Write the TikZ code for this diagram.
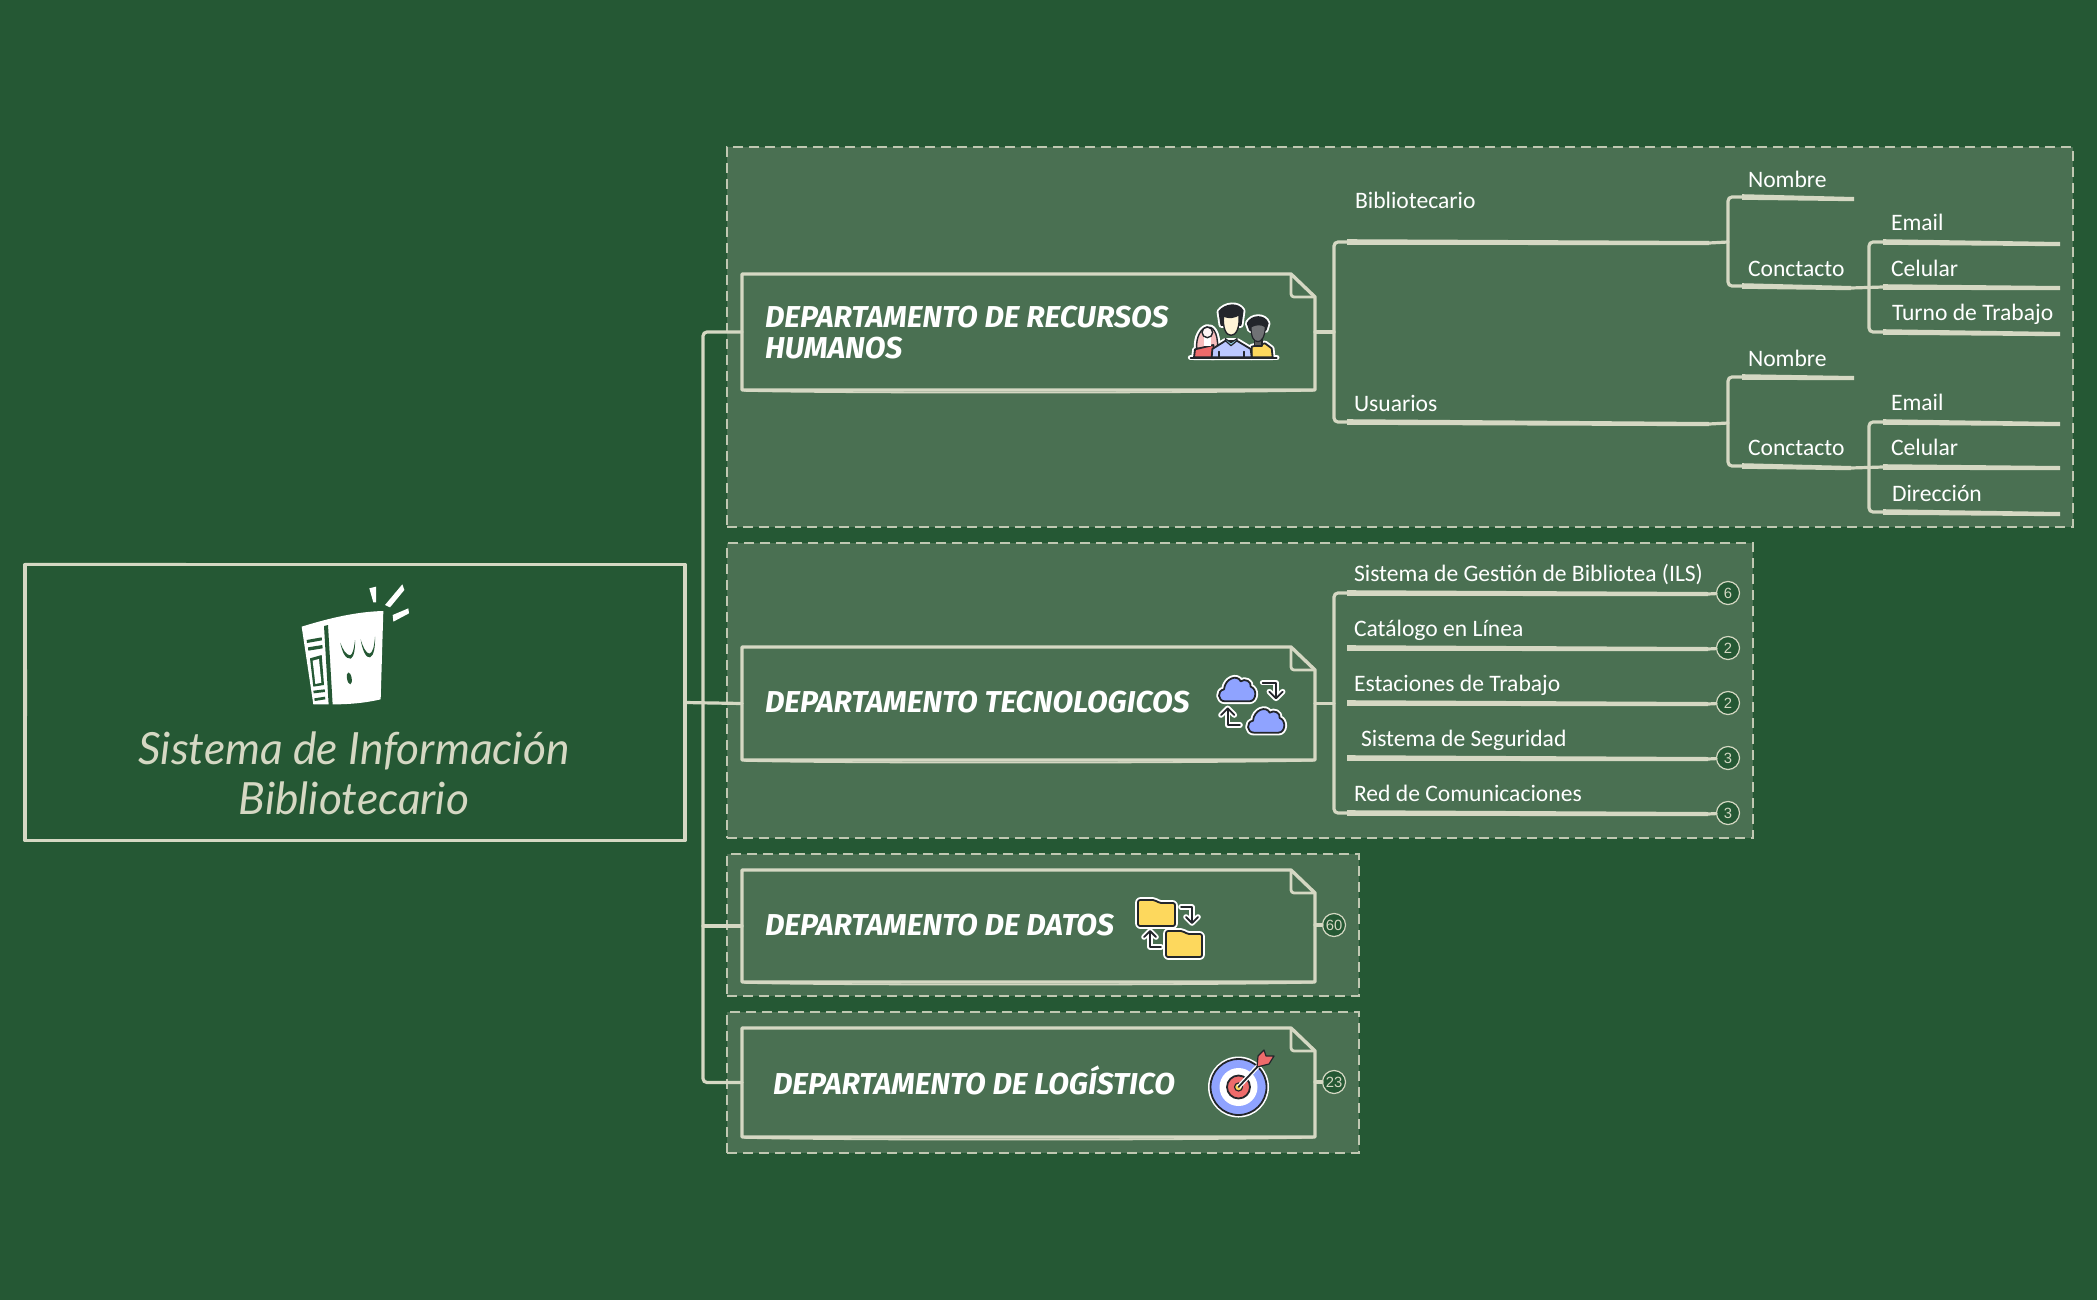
\documentclass[tikz,border=0pt]{standalone}
\usepackage{fontspec}
\usepackage{graphicx}
\setmainfont{Carlito}
\newfontfamily\titlef{Lato}
\newfontfamily\deptf{Fira Sans}
\newfontfamily\badgef{Liberation Sans}
\usetikzlibrary{calc}
\definecolor{bgc}{HTML}{255834}
\definecolor{grpc}{HTML}{4A7052}
\definecolor{ink}{HTML}{D5D8C3}
\definecolor{icod}{HTML}{23262B}
\definecolor{icob}{HTML}{8FA3FF}
\definecolor{icoy}{HTML}{FDD85D}
\definecolor{icor}{HTML}{EE6B6B}
\tikzset{
  grp/.style={fill=grpc,draw=ink!85!grpc,line width=.55pt,dash pattern=on 5pt off 3pt},
  wire/.style={draw=ink,line width=1.6pt,rounded corners=2pt,line cap=round},
  boxline/.style={draw=ink,line width=1.7pt,line join=round},
  shell/.style={inner sep=0pt,outer sep=0pt},
  lab/.style={inner sep=0pt,outer sep=0pt,anchor=west,text=white,font=\fontsize{11.8}{13}\selectfont},
  dlab/.style={inner sep=0pt,outer sep=0pt,anchor=west,text=white,align=left,font=\deptf\itshape\bfseries\fontsize{15.1}{15.5}\selectfont},
  badge/.style={circle,draw=ink,fill=bgc,line width=.6pt,minimum size=11.5pt,inner sep=0pt,text=ink,font=\badgef\fontsize{7.4}{8}\selectfont},
  halo/.style={draw=white,line width=2.8pt,line join=round,line cap=round},
  ico/.style={draw=icod,line width=.9pt,line join=round,line cap=round},
}
\newcommand{\taper}[2]{\fill[ink] ([yshift=1.4pt]#1) -- ([yshift=1pt]#2) -- ([yshift=-1.1pt]#2) -- ([yshift=-1.4pt]#1) -- cycle;}
\newcommand{\deptoutline}[1]{%
  \draw[boxline] (#1.north west) -- ([xshift=-12pt]#1.north east) -- ([yshift=-11.5pt]#1.north east) -- (#1.south east) -- (#1.south west) -- cycle;
  \draw[boxline,line width=1.4pt,rounded corners=1.5pt] ([xshift=-12pt]#1.north east) -- ([xshift=-12pt,yshift=-11.5pt]#1.north east) -- ([yshift=-11.5pt]#1.north east);
  \draw[draw=ink,line width=.9pt] ([xshift=1pt,yshift=-.4pt]#1.south west) .. controls ([xshift=-90pt,yshift=-1.7pt]#1.south) and ([xshift=90pt,yshift=-1.5pt]#1.south) .. ([xshift=-1pt,yshift=-.3pt]#1.south east);
}
\begin{document}
\begin{tikzpicture}[x=.5pt,y=-.5pt]
\useasboundingbox (0,0) rectangle (2097,1300);
\fill[bgc] (0,0) rectangle (2097,1300);
% groups
\node[grp,shell,minimum width=673pt,minimum height=190pt] (g1) at (1400,337) {};
\node[grp,shell,minimum width=513pt,minimum height=147.5pt] (g2) at (1240,690.5) {};
\node[grp,shell,minimum width=316pt,minimum height=71pt] (g3) at (1043,925) {};
\node[grp,shell,minimum width=316pt,minimum height=70.5pt] (g4) at (1043,1082.5) {};
% main
\node[shell,minimum width=330pt,minimum height=138pt] (m) at (355,702.5) {};
\draw[boxline,line width=1.6pt] (m.north west) -- (m.north east) -- (m.south east) -- (m.south west) -- cycle;
\draw[draw=ink,line width=.7pt] ([yshift=.5pt]m.north west) -- ([yshift=.1pt]m.north east);
\draw[draw=ink,line width=.7pt] ([xshift=.5pt]m.north west) -- ([xshift=.7pt,yshift=-70pt]m.north west) -- ([xshift=.1pt]m.south west);
\node[shell,text=ink,align=center,font=\titlef\itshape\fontsize{22.2}{25}\selectfont] (mt) at (354,773) {Sistema de Información\\Bibliotecario};
% departments
\node[shell,minimum width=286.5pt,minimum height=58pt] (d1) at (1028.5,332) {};
\node[shell,minimum width=286.5pt,minimum height=56.5pt] (d2) at (1028.5,703.5) {};
\node[shell,minimum width=286.5pt,minimum height=56pt] (d3) at (1028.5,926) {};
\node[shell,minimum width=286.5pt,minimum height=54.5pt] (d4) at (1028.5,1082.5) {};
\deptoutline{d1}\deptoutline{d2}\deptoutline{d3}\deptoutline{d4}
\node[dlab] (d1t) at (765,332.5) {DEPARTAMENTO DE RECURSOS\\HUMANOS};
\node[dlab] (d2t) at (765,702) {DEPARTAMENTO TECNOLOGICOS};
\node[dlab] (d3t) at (765,925) {DEPARTAMENTO DE DATOS};
\node[dlab] (d4t) at (773,1080) {DEPARTAMENTO DE LOGÍSTICO};
% main trunk
\coordinate (tr) at (703,703);
\draw[wire] (m.east) -- (d2.west);
\draw[wire] (d1.west) -- (tr |- d1.west) -- (tr |- d4.west) -- (d4.west);
\draw[wire] (d3.west) -- (tr |- d3.west);
% level 2 dept 1
\node[lab] (bib) at (1355,200) {Bibliotecario};
\node[lab] (usu) at (1354,403) {Usuarios};
\coordinate (bibL) at (1347,242);\coordinate (bibR) at (1709,243);\coordinate (bibE) at (1728,242);
\coordinate (usuL) at (1347,422);\coordinate (usuR) at (1709,424);\coordinate (usuE) at (1728,423);
\taper{bibL}{bibR}\taper{usuL}{usuR}
\draw[wire] (d1.east) -- (1334,332);
\draw[wire] (bibL) -- (1334,242) -- (1334,422) -- (usuL);
\draw[wire] (bibR) -- (bibE);\draw[wire] (usuR) -- (usuE);
% upper sub-tree
\node[lab] (n1) at (1748,179) {Nombre};
\node[lab] (c1) at (1748,269) {Conctacto};
\coordinate (n1L) at (1742,197);\coordinate (n1R) at (1854,199);
\coordinate (c1L) at (1742,286);\coordinate (c1R) at (1851,288);
\taper{n1L}{n1R}\taper{c1L}{c1R}
\draw[wire] (n1L) -- (1728,197) -- (1728,286) -- (c1L);
\node[lab] (e1) at (1891,222) {Email};
\node[lab] (p1) at (1891,268) {Celular};
\node[lab] (t1) at (1892,314) {Turno de Trabajo};
\coordinate (e1L) at (1883,242);\coordinate (e1R) at (2060,244);
\coordinate (p1L) at (1883,287);\coordinate (p1R) at (2060,288);
\coordinate (t1L) at (1883,332);\coordinate (t1R) at (2060,334);
\taper{e1L}{e1R}\taper{p1L}{p1R}\taper{t1L}{t1R}
\draw[wire] (e1L) -- (1869,242) -- (1869,332) -- (t1L);
\draw[wire] (c1R) -- (p1L);
% lower sub-tree
\node[lab] (n2) at (1748,358) {Nombre};
\node[lab] (c2) at (1748,448) {Conctacto};
\coordinate (n2L) at (1742,377);\coordinate (n2R) at (1854,378);
\coordinate (c2L) at (1742,466);\coordinate (c2R) at (1851,468);
\taper{n2L}{n2R}\taper{c2L}{c2R}
\draw[wire] (n2L) -- (1728,377) -- (1728,466) -- (c2L);
\node[lab] (e2) at (1891,402) {Email};
\node[lab] (p2) at (1891,447) {Celular};
\node[lab] (t2) at (1892,493) {Dirección};
\coordinate (e2L) at (1883,422);\coordinate (e2R) at (2060,424);
\coordinate (p2L) at (1883,467);\coordinate (p2R) at (2060,468);
\coordinate (t2L) at (1883,512);\coordinate (t2R) at (2060,514);
\taper{e2L}{e2R}\taper{p2L}{p2R}\taper{t2L}{t2R}
\draw[wire] (e2L) -- (1869,422) -- (1869,512) -- (t2L);
\draw[wire] (c2R) -- (p2L);
% dept 2 leaves
\foreach \nm/\yy/\txx/\tyy/\num/\tx in {a/593/1354/575/6/Sistema de Gestión de Bibliotea (ILS),b/648/1354/630/2/Catálogo en Línea,c/703/1354/685/2/Estaciones de Trabajo,d/758/1361/740/3/Sistema de Seguridad,e/813/1354/793/3/Red de Comunicaciones}{
  \node[lab] (l\nm) at (\txx,\tyy) {\tx};
  \node[badge] (b\nm) at (1728,\yy) {\num};
  \coordinate (s\nm) at (1347,\yy);
  \coordinate (r\nm) at (1708,\yy+1);
  \taper{s\nm}{r\nm}
  \draw[wire] (r\nm) -- (b\nm);
}
\draw[wire] (d2.east) -- (1334,703.5);
\draw[wire] (sa) -- (1334,593) -- (1334,813) -- (se);
% badges on 3,4
\node[badge] (b60) at (1334,925) {60};
\node[badge] (b23) at (1334,1082) {23};
\draw[wire] (d3.east |- b60) -- (b60);
\draw[wire] (d4.east |- b23) -- (b23);
% book icon
\begin{scope}[shift={(280,570)},x=.16667pt,y=-.16667pt]
\fill[white] (65,170) .. controls (130,150) and (220,125) .. (310,123) -- (302,388) .. controls (250,400) and (200,405) .. (100,403) -- cycle;
\fill[white] (268,55) -- (288,50) -- (288,97) -- (280,97) -- cycle;
\fill[white] (315,105) -- (367,43) -- (373,60) -- (330,112) -- cycle;
\fill[white] (338,135) -- (385,115) -- (387,130) -- (340,155) -- cycle;
\fill[bgc] (132,168) -- (144,165) -- (158,405) -- (146,405) -- cycle;
\fill[bgc] (80,210) -- (125,202) -- (126,211) -- (81,219) -- cycle;
\fill[bgc] (84,232) -- (127,225) -- (128,235) -- (85,242) -- cycle;
\fill[bgc] (90,265) -- (125,255) -- (132,345) -- (100,350) -- cycle;
\fill[white] (98,272) -- (117,267) -- (124,338) -- (106,342) -- cycle;
\fill[bgc] (100,362) -- (134,358) -- (135,366) -- (101,370) -- cycle;
\fill[bgc] (103,385) -- (135,380) -- (136,388) -- (104,393) -- cycle;
\fill[bgc] (181,218) .. controls (186,245) and (196,268) .. (212,266) .. controls (222,262) and (226,235) .. (225,210) .. controls (222,235) and (218,255) .. (210,256) .. controls (198,255) and (188,238) .. (181,218) -- cycle;
\fill[bgc] (242,208) .. controls (246,238) and (258,266) .. (270,262) .. controls (282,258) and (286,228) .. (285,200) .. controls (283,228) and (278,250) .. (268,251) .. controls (258,250) and (248,230) .. (242,208) -- cycle;
\fill[bgc,rotate around={10:(208,325)}] (208,325) ellipse (7 and 18);
\end{scope}
% people icon
\begin{scope}[shift={(1150,280)},x=.16667pt,y=-.16667pt]
\def\hairW{(140,205) .. controls (135,135) and (205,105) .. (203,205) -- cycle}
\def\bodyW{(132,232) -- (135,208) -- (190,195) -- (192,232) -- cycle}
\def\hairM{(214,135) -- (208,95) .. controls (225,72) and (265,68) .. (278,92) -- (272,135) -- cycle}
\def\bodyM{(185,232) -- (187,207) -- (225,183) -- (262,183) -- (302,207) -- (305,232) -- cycle}
\def\hairT{(300,150) -- (293,130) .. controls (305,105) and (345,105) .. (353,130) -- (347,150) -- cycle}
\def\bodyT{(305,232) -- (305,200) -- (345,190) -- (365,205) -- (368,232) -- cycle}
\draw[halo] \hairW; \draw[halo] \bodyW; \draw[halo] \hairM; \draw[halo] \bodyM; \draw[halo] \hairT; \draw[halo] \bodyT;
\draw[halo] (122,233) -- (380,233);
\filldraw[ico,fill=icor!45!white,line width=.7pt] \hairW;
\filldraw[ico,fill=icor] \bodyW;
\fill[white] (163,172) rectangle (182,198);
\filldraw[ico,fill=icor!8!white,line width=.7pt] (172,157) circle (16);
\filldraw[ico,fill=icoy] \bodyT;
\filldraw[ico,fill=black!65!white,line width=.8pt] (314,175) rectangle (336,198);
\filldraw[ico,fill=icod] \hairT;
\filldraw[ico,fill=icod!65!white,line width=.6pt] (303,140) .. controls (320,132) and (335,132) .. (346,140) .. controls (345,170) and (335,185) .. (324,185) .. controls (310,185) and (303,170) .. (303,140) -- cycle;
\filldraw[ico,fill=icob!60!white] \bodyM;
\filldraw[ico,fill=icod] \hairM;
\filldraw[ico,fill=icoy!25!white,line width=.7pt] (220,108) .. controls (238,116) and (255,112) .. (267,104) .. controls (270,145) and (258,166) .. (243,166) .. controls (228,166) and (218,145) .. (220,108) -- cycle;
\filldraw[ico,fill=cyan!40!white,line width=.6pt] (226,182) -- (243,197) -- (261,182) -- (261,176) -- (243,188) -- (226,176) -- cycle;
\draw[ico] (122,233) -- (380,233);
\draw[ico] (207,232) -- (207,215);\draw[ico] (282,232) -- (282,215);
\end{scope}
% clouds icon
\begin{scope}[shift={(1190,650)},x=.16667pt,y=-.16667pt]
\def\cloud{(25,74) .. controls (3,74) and (0,42) .. (22,38) .. controls (25,5) and (62,-8) .. (72,14) .. controls (85,4) and (105,15) .. (102,30) .. controls (122,36) and (120,74) .. (98,74) -- cycle}
\begin{scope}[shift={(80,80)}]\draw[halo] \cloud;\filldraw[ico,fill=icob] \cloud;\end{scope}
\begin{scope}[shift={(167,174)}]\draw[halo] \cloud;\filldraw[ico,fill=icob] \cloud;\end{scope}
\draw[halo] (218,98) -- (258,98) -- (258,142);\draw[halo] (238,125) -- (258,145) -- (278,125);
\draw[ico] (218,98) -- (258,98) -- (258,142);\draw[ico] (238,125) -- (258,145) -- (278,125);
\draw[halo] (150,225) -- (113,225) -- (113,178);\draw[halo] (93,195) -- (113,175) -- (133,195);
\draw[ico] (150,225) -- (113,225) -- (113,178);\draw[ico] (93,195) -- (113,175) -- (133,195);
\end{scope}
% folders icon
\def\foldA{[rounded corners=1pt] (1138,900) -- (1155,900) -- (1159,903) -- (1175,903) -- (1175,926) -- (1138,926) -- cycle}
\def\foldB{[rounded corners=1pt] (1166,931) -- (1183,931) -- (1187,934) -- (1202,934) -- (1202,957) -- (1166,957) -- cycle}
\draw[halo] \foldA;\filldraw[ico,fill=icoy] \foldA;
\draw[halo] \foldB;\filldraw[ico,fill=icoy] \foldB;
\draw[halo] (1181,907) -- (1192,907) -- (1192,922);\draw[halo] (1186,917) -- (1192,923) -- (1198,917);
\draw[ico] (1181,907) -- (1192,907) -- (1192,922);\draw[ico] (1186,917) -- (1192,923) -- (1198,917);
\draw[halo] (1161,947) -- (1150,947) -- (1150,932);\draw[halo] (1144,937) -- (1150,931) -- (1156,937);
\draw[ico] (1161,947) -- (1150,947) -- (1150,932);\draw[ico] (1144,937) -- (1150,931) -- (1156,937);
% target icon
\filldraw[fill=white,draw=white,line width=1pt] (1238.5,1087) circle (29.5);
\filldraw[ico,fill=icob] (1238.5,1087) circle (28);
\fill[white] (1238.5,1087) circle (19);
\filldraw[ico,fill=icor] (1238.5,1087) circle (11.5);
\filldraw[ico,fill=icoy,line width=.6pt] (1238.5,1087) circle (4);
\draw[draw=white,line width=2.2pt] (1238.5,1087) -- (1258,1066);
\draw[ico,line width=.9pt] (1238.5,1087) -- (1260,1064);
\filldraw[ico,fill=icor,line width=.6pt] (1257,1067) -- (1258,1056) -- (1264,1050) -- (1266,1056) -- (1274,1056) -- (1269,1064) -- cycle;
\end{tikzpicture}
\end{document}
